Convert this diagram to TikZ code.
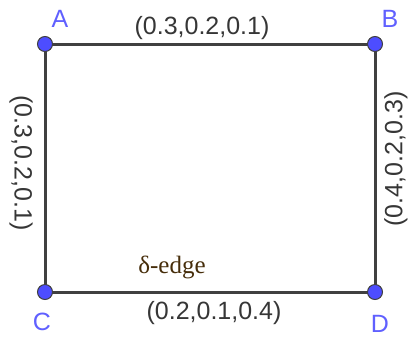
\documentclass[tikz,border=0pt]{standalone}
\usepackage{fontspec}
\setmainfont{Liberation Sans}
\newfontfamily\edgefont{Liberation Serif}
\definecolor{ptBlue}{RGB}{77,77,255}
\definecolor{lblBlue}{RGB}{96,96,255}
\definecolor{edgeGray}{RGB}{64,64,64}
\definecolor{deltaBrown}{RGB}{70,45,10}
\usetikzlibrary{positioning}

\begin{document}
\begin{tikzpicture}[x=1pt, y=-1pt,
  pt/.style={circle, draw=edgeGray, fill=ptBlue, line width=1pt,
             inner sep=0pt, minimum size=15pt},
  edge/.style={draw=edgeGray, line width=3pt},
  vlbl/.style={text=lblBlue, font=\fontsize{25}{25}\selectfont, inner sep=0pt},
  elbl/.style={text=edgeGray!85!black, font=\fontsize{25}{25}\selectfont, inner sep=0pt}
]
  \useasboundingbox (0,0) rectangle (409,338);

  \coordinate (A) at (45,44);
  \coordinate (B) at (375,44);
  \coordinate (C) at (45,292);
  \coordinate (D) at (375,292);

  \draw[edge] (A) -- (B) -- (D) -- (C) -- cycle;

  \node[pt] (ptA) at (A) {};
  \node[pt] (ptB) at (B) {};
  \node[pt] (ptC) at (C) {};
  \node[pt] (ptD) at (D) {};

  \node[vlbl] (lblA) at (60,19)  {A};
  \node[vlbl] (lblB) at (390,19) {B};
  \node[vlbl] (lblC) at (42,322) {C};
  \node[vlbl] (lblD) at (380,324) {D};

  \node[elbl] (ab) at (202,28) {(0.3,0.2,0.1)};
  \node[elbl, rotate=-90] (ac) at (21,163) {(0.3,0.2,0.1)};
  \node[elbl, rotate=90]  (bd) at (396,159) {(0.4,0.2,0.3)};
  \node[elbl] (cd) at (214,313) {(0.2,0.1,0.4)};
  \node[text=deltaBrown, font=\edgefont\fontsize{25}{25}\selectfont, inner sep=0pt]
    (delta) at (172,267) {δ-edge};
\end{tikzpicture}
\end{document}
